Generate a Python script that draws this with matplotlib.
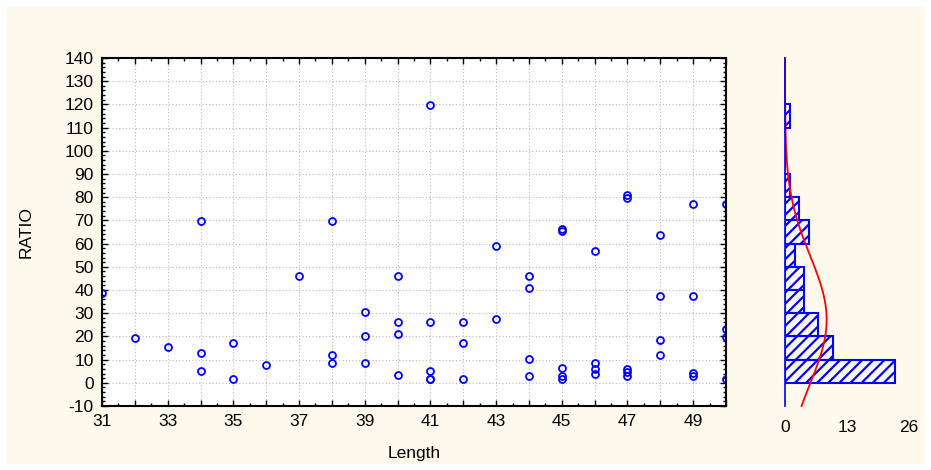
import numpy as np
import matplotlib
matplotlib.use("Agg")
import matplotlib.pyplot as plt
from matplotlib.patches import Rectangle
from matplotlib.ticker import MultipleLocator

plt.rcParams['font.family'] = ['Liberation Sans', 'DejaVu Sans']
plt.rcParams['axes.unicode_minus'] = False
plt.rcParams['hatch.color'] = 'blue'
plt.rcParams['hatch.linewidth'] = 1.6

# Length / RATIO pairs
length = [31, 32, 33, 34, 34, 34, 35, 35, 36, 37,
          38, 38, 38, 39, 39, 39, 40, 40, 40, 40,
          41, 41, 41, 41, 41, 42, 42, 42, 43, 43,
          44, 44, 44, 44, 45, 45, 45, 45, 45, 46,
          46, 46, 46, 47, 47, 47, 47, 47, 48, 48,
          48, 48, 49, 49, 49, 49, 50, 50, 50, 50]
ratio = [38.6, 19.3, 15.6, 69.6, 12.7, 4.9, 17.3, 1.7, 7.5, 46.1,
         69.6, 12.1, 8.5, 30.5, 20.2, 8.5, 46.1, 26.2, 21.0, 3.2,
         119.7, 26.2, 5.2, 1.7, 1.8, 26.2, 17.3, 1.7, 58.8, 27.7,
         46.1, 40.9, 10.1, 2.9, 66.4, 65.4, 6.3, 2.9, 1.7, 57.0,
         8.6, 6.0, 4.0, 80.8, 79.8, 5.8, 4.6, 2.9, 63.5, 37.2,
         18.4, 12.1, 77.2, 37.2, 4.3, 2.9, 77.2, 23.0, 19.6, 1.7]

x_ticks = [31, 33, 35, 37, 39, 41, 43, 45, 47, 49]
y_ticks = list(range(-10, 141, 10))
hist_bins = list(range(0, 130, 10))
hist_ticks = [0, 13, 26]

fs = 12.5
cream = '#fef9ed'
fig = plt.figure(figsize=(9.31, 4.70), dpi=100, facecolor='white')
fig.patches.append(Rectangle((6 / 931, 6 / 470), 919 / 931, 458 / 470,
                             transform=fig.transFigure, facecolor=cream,
                             edgecolor='none', zorder=-10))

# main scatter
ax = fig.add_axes([102 / 931, 1 - 406 / 470, 624 / 931, 348 / 470])
ax.set_facecolor('white')
ax.plot(length, ratio, 'o', ms=5, mfc='none', mec='blue', mew=1.3)
ax.set_xlim(31, 50)
ax.set_ylim(-10, 140)
ax.set_yticks(y_ticks)
ax.set_xticks(range(31, 51))
ax.set_xticklabels([str(v) if v in x_ticks else '' for v in range(31, 51)])
ax.xaxis.set_minor_locator(MultipleLocator(0.5))
ax.yaxis.set_minor_locator(MultipleLocator(2))
ax.grid(True, which='major', color='#b8b8b8', ls=(0, (1, 2)), lw=0.8)
ax.tick_params(which='both', direction='in', top=True, right=True,
               labelsize=fs, pad=6)
ax.tick_params(which='major', length=4, width=1)
ax.tick_params(which='minor', length=2, width=1)
for s in ax.spines.values():
    s.set_linewidth(1.5)
ax.set_xlabel('Length', fontsize=fs, labelpad=12)
ax.set_ylabel('RATIO', fontsize=fs, labelpad=22)

# side histogram with normal fit
hx = fig.add_axes([785 / 931, 1 - 406 / 470, 124 / 931, 348 / 470])
hx.set_facecolor('none')
hx.hist(ratio, bins=hist_bins, orientation='horizontal', facecolor='none',
        edgecolor='blue', linewidth=1.5, hatch='///')
r = np.array(ratio)
mu, sd = r.mean(), r.std(ddof=1)
yy = np.linspace(-10, 140, 300)
dens = len(r) * 10 * np.exp(-0.5 * ((yy - mu) / sd) ** 2) / (sd * np.sqrt(2 * np.pi))
hx.plot(dens, yy, color='red', lw=1.3, clip_on=False)
hx.set_xlim(0, 26)
hx.set_ylim(-10, 140)
hx.set_xticks(hist_ticks)
hx.set_yticks([])
hx.tick_params(axis='x', length=0, labelsize=fs, pad=10)
for k in ['top', 'right', 'bottom']:
    hx.spines[k].set_visible(False)
hx.spines['left'].set_color('blue')
hx.spines['left'].set_linewidth(1.2)

fig.savefig('out.png', dpi=100, facecolor=fig.get_facecolor())
